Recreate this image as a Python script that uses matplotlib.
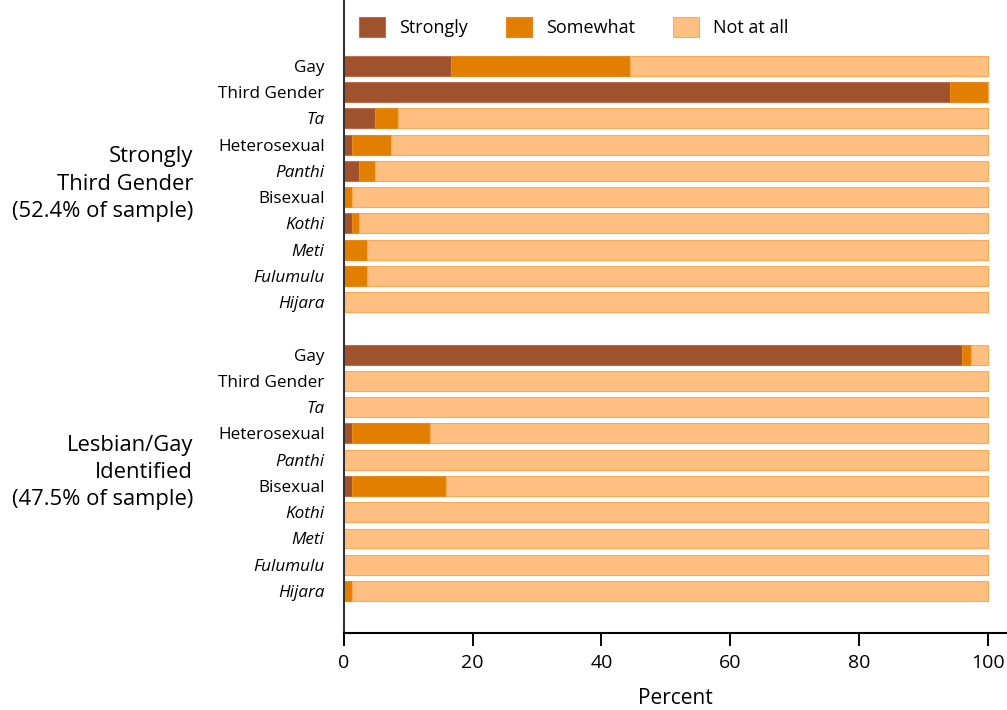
import matplotlib
matplotlib.use("Agg")
import matplotlib.pyplot as plt
from matplotlib.patches import Patch
import numpy as np

plt.rcParams['font.family'] = ['Open Sans', 'DejaVu Sans']

categories = ["Gay", "Third Gender", "Ta", "Heterosexual", "Panthi",
              "Bisexual", "Kothi", "Meti", "Fulumulu", "Hijara"]
italic_cats = {"Ta", "Panthi", "Kothi", "Meti", "Fulumulu", "Hijara"}
groups = ["Strongly\nThird Gender\n(52.4% of sample)",
          "Lesbian/Gay\nIdentified\n(47.5% of sample)"]
series_names = ["Strongly", "Somewhat", "Not at all"]

# Group 1: Strongly Third Gender
tg_strongly = [16.7, 94.2, 4.8, 1.2, 2.3, 0.0, 1.2, 0.0, 0.0, 0.0]
tg_somewhat = [27.8, 5.8, 3.6, 6.1, 2.5, 1.2, 1.2, 3.6, 3.6, 0.0]
tg_notatall = [55.5, 0.0, 91.6, 92.7, 95.2, 98.8, 97.6, 96.4, 96.4, 100.0]

# Group 2: Lesbian/Gay identified
lg_strongly = [96.0, 0.0, 0.0, 1.2, 0.0, 1.3, 0.0, 0.0, 0.0, 0.0]
lg_somewhat = [1.4, 0.0, 0.0, 12.1, 0.0, 14.5, 0.0, 0.0, 0.0, 1.2]
lg_notatall = [2.6, 100.0, 100.0, 86.7, 100.0, 84.2, 100.0, 100.0, 100.0, 98.8]

xticks = [0, 20, 40, 60, 80, 100]

colors = ["#A0522D", "#E37F00", "#FFBF80"]
edges = ["#B8704E", "#E88A1A", "#FBAA55"]

W, H = 1007, 710
fig = plt.figure(figsize=(W / 100, H / 100), dpi=100)
ax = fig.add_axes([344 / W, 1 - 633 / H, (1006 - 344) / W, 633 / H])

n = len(categories)
ypos_tg = np.arange(n)
ypos_lg = np.arange(n) + n + 1
bar_h = 0.76

for ypos, data in [(ypos_tg, (tg_strongly, tg_somewhat, tg_notatall)),
                   (ypos_lg, (lg_strongly, lg_somewhat, lg_notatall))]:
    left = np.zeros(n)
    for vals, c, e in zip(data, colors, edges):
        vals = np.array(vals)
        ax.barh(ypos, vals, left=left, height=bar_h, color=c,
                edgecolor=e, linewidth=0.8)
        left = left + vals

xmax = 100 * (1006 - 344) / (987.7 - 344)
ax.set_xlim(0, xmax)
ax.set_ylim(2 * n + 1.6, -2.51)

yt = list(ypos_tg) + list(ypos_lg)
ax.set_yticks(yt)
ax.set_yticklabels(categories + categories, fontsize=12.3)
for lab in ax.get_yticklabels():
    if lab.get_text() in italic_cats:
        lab.set_fontstyle('italic')
ax.tick_params(axis='y', length=0, pad=14)

ax.set_xticks(xticks)
ax.set_xticklabels([str(v) for v in xticks], fontsize=14)
ax.tick_params(axis='x', length=9, width=1.4, pad=6, color='black')
ax.set_xlabel("Percent", fontsize=15, labelpad=12)

for s in ['top', 'right']:
    ax.spines[s].set_visible(False)
ax.spines['left'].set_linewidth(1.5)
ax.spines['bottom'].set_linewidth(1.5)
ax.spines['left'].set_color('#333333')

trans = ax.get_yaxis_transform()
xg = (193 - 344) / (1006 - 344)
ax.text(xg, np.mean(ypos_tg), groups[0], transform=trans, ha='right',
        va='center', fontsize=15.8, linespacing=1.38)
ax.text(xg, np.mean(ypos_lg), groups[1], transform=trans, ha='right',
        va='center', fontsize=15.8, linespacing=1.38)

handles = [Patch(facecolor=c, edgecolor=e, linewidth=0.8)
           for c, e in zip(colors, edges)]
ax.legend(handles, series_names, loc='center left', ncol=3, frameon=False,
          bbox_to_anchor=(15 / 662, 1 - 27 / 633), fontsize=13,
          handlelength=1.44, handleheight=1.39, handletextpad=0.78,
          columnspacing=2.1, borderpad=0, borderaxespad=0)

fig.savefig("out.png", dpi=100)
